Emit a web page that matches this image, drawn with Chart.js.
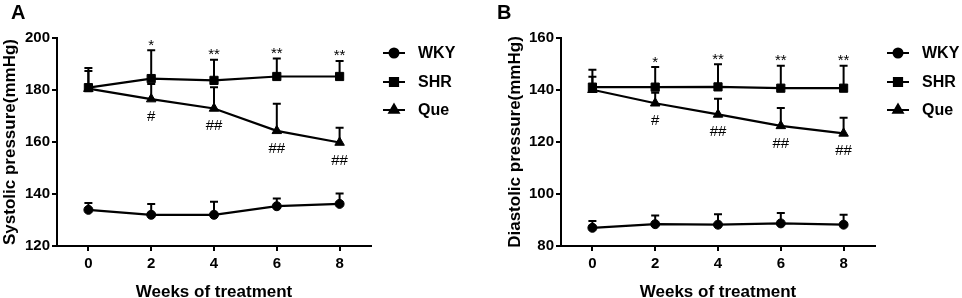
<!DOCTYPE html>
<html lang="en">
<head>
  <meta charset="UTF-8">
  <title>Blood pressure over weeks of treatment</title>
  <script src="https://cdn.jsdelivr.net/npm/chart.js"></script>
  <style>
    body {
      margin: 0;
      background: #ffffff;
    }
    .panel {
      position: absolute;
      top: 0;
      height: 298px;
    }
    #panelA { left: 0; width: 480px; }
    #panelB { left: 480px; width: 482px; }
  </style>
</head>
<body>

<div class="panel" id="panelA"><canvas id="chartA" width="480" height="298"></canvas></div>
<div class="panel" id="panelB"><canvas id="chartB" width="482" height="298"></canvas></div>

<script>
  const weeks = [0, 2, 4, 6, 8];
  const groups = ['WKY', 'SHR', 'Que'];

  // systolic (panel A): means and upper error (SD)
  const sysWKY = [133.9, 132.0, 132.0, 135.3, 136.2];
  const sysWKYsd = [2.6, 4.2, 5.0, 3.0, 4.0];
  const sysSHR = [180.9, 184.4, 183.7, 185.2, 185.2];
  const sysSHRsd = [7.6, 10.9, 7.9, 6.9, 6.0];
  const sysQue = [180.5, 176.5, 172.9, 164.3, 159.8];
  const sysQuesd = [6.8, 5.8, 8.2, 10.4, 5.7];

  // diastolic (panel B)
  const diaWKY = [87.0, 88.4, 88.2, 88.7, 88.2];
  const diaWKYsd = [2.6, 3.3, 4.0, 4.0, 3.8];
  const diaSHR = [141.1, 141.1, 141.2, 140.7, 140.7];
  const diaSHRsd = [6.7, 7.7, 8.7, 8.6, 8.6];
  const diaQue = [140.1, 134.9, 130.6, 126.2, 123.3];
  const diaQuesd = [5.0, 4.0, 6.0, 6.9, 6.0];

  // significance marks
  const starMarks = ['', '*', '**', '**', '**'];
  const hashMarks = ['', '#', '##', '##', '##'];

  const pointStyles = ['circle', 'rect', 'triangle'];
  const pointRadii = [4.5, 5.8, 5.5];
  const fontFamily = '"Liberation Sans", Arial, sans-serif';

  // vertical error bars with caps, drawn under the markers
  const errorBars = {
    id: 'errorBars',
    beforeDatasetsDraw(chart) {
      const c = chart.ctx;
      const x = chart.scales.x, y = chart.scales.y;
      c.save();
      c.strokeStyle = '#000';
      c.lineWidth = 2;
      chart.data.datasets.forEach(ds => {
        ds.data.forEach((pt, i) => {
          const px = x.getPixelForValue(pt.x);
          const py = y.getPixelForValue(pt.y);
          const top = y.getPixelForValue(pt.y + ds.sd[i]);
          c.beginPath();
          c.moveTo(px, py);
          c.lineTo(px, top);
          c.moveTo(px - 4, top);
          c.lineTo(px + 4, top);
          c.stroke();
        });
      });
      c.restore();
    }
  };

  // * above SHR error bars, # under Que points, panel letter, legend
  const extras = {
    id: 'extras',
    afterDraw(chart, args, opts) {
      const c = chart.ctx;
      const x = chart.scales.x, y = chart.scales.y;
      const shr = chart.data.datasets[1];
      const que = chart.data.datasets[2];
      c.save();
      c.fillStyle = '#000';
      c.textAlign = 'center';
      c.textBaseline = 'alphabetic';
      c.font = '15px ' + fontFamily;
      weeks.forEach((w, i) => {
        const px = x.getPixelForValue(w);
        if (starMarks[i]) {
          const top = y.getPixelForValue(shr.data[i].y + shr.sd[i]);
          c.fillText(starMarks[i], px, top - 0.5);
        }
        if (hashMarks[i]) {
          const py = y.getPixelForValue(que.data[i].y);
          c.fillText(hashMarks[i], px, py + 22);
        }
      });

      c.textAlign = 'left';
      c.font = 'bold 20px ' + fontFamily;
      c.fillText(opts.letter, opts.letterX, 19);

      // legend
      const lx = chart.chartArea.right + 12;
      const rows = [53, 82, 110];
      chart.data.datasets.forEach((ds, k) => {
        const ly = rows[k];
        c.strokeStyle = '#000';
        c.lineWidth = 2;
        c.beginPath();
        c.moveTo(lx, ly);
        c.lineTo(lx + 22, ly);
        c.stroke();
        Chart.helpers.drawPoint(c, {
          pointStyle: ds.pointStyle, radius: ds.pointRadius, borderWidth: 1, rotation: 0
        }, lx + 11, ly);
        c.fill();
        c.font = 'bold 16px ' + fontFamily;
        c.textBaseline = 'middle';
        c.fillText(ds.label, lx + 35, ly + 1);
      });
      c.restore();
    }
  };

  function makeChart(id, series, sds, yMin, yMax, yTitle, yWidth, padLeft, padRight, letter, letterX) {
    const datasets = series.map((vals, k) => ({
      label: groups[k],
      data: weeks.map((w, i) => ({ x: w, y: vals[i] })),
      sd: sds[k],
      borderColor: '#000',
      backgroundColor: '#000',
      borderWidth: 2.2,
      pointStyle: pointStyles[k],
      pointRadius: pointRadii[k],
      pointBackgroundColor: '#000',
      pointBorderColor: '#000',
      pointBorderWidth: 1,
      tension: 0
    }));

    return new Chart(document.getElementById(id), {
      type: 'line',
      data: { datasets },
      plugins: [errorBars, extras],
      options: {
        responsive: false,
        animation: false,
        devicePixelRatio: 1,
        layout: { padding: { top: 38, left: padLeft, right: padRight, bottom: 0 } },
        plugins: {
          legend: { display: false },
          tooltip: { enabled: false },
          extras: { letter: letter, letterX: letterX }
        },
        scales: {
          x: {
            type: 'linear',
            min: -1,
            max: 9,
            afterBuildTicks: s => { s.ticks = weeks.map(v => ({ value: v })); },
            afterFit: s => { s.height = 52; },
            grid: { drawOnChartArea: false, drawTicks: true, tickLength: 5, color: '#000', lineWidth: 2 },
            border: { color: '#000', width: 2 },
            ticks: { color: '#000', padding: 4, font: { family: fontFamily, size: 15, weight: 'bold' } },
            title: {
              display: true,
              text: 'Weeks of treatment',
              color: '#000',
              padding: { top: 0, bottom: -3 },
              font: { family: fontFamily, size: 17, weight: 'bold', lineHeight: 1 }
            }
          },
          y: {
            min: yMin,
            max: yMax,
            afterFit: s => { s.width = yWidth; },
            grid: { drawOnChartArea: false, drawTicks: true, tickLength: 5, color: '#000', lineWidth: 2 },
            border: { color: '#000', width: 2 },
            ticks: { stepSize: 20, color: '#000', padding: 2, font: { family: fontFamily, size: 15, weight: 'bold' } },
            title: {
              display: true,
              text: yTitle,
              color: '#000',
              padding: 0,
              font: { family: fontFamily, size: 17, weight: 'bold', lineHeight: 1.2 }
            }
          }
        }
      }
    });
  }

  makeChart('chartA', [sysWKY, sysSHR, sysQue], [sysWKYsd, sysSHRsd, sysQuesd],
    120, 200, 'Systolic pressure(mmHg)', 57, 0, 109, 'A', 11);
  makeChart('chartB', [diaWKY, diaSHR, diaQue], [diaWKYsd, diaSHRsd, diaQuesd],
    80, 160, 'Diastolic pressure(mmHg)', 56, 25, 87, 'B', 17);
</script>
</body>
</html>
